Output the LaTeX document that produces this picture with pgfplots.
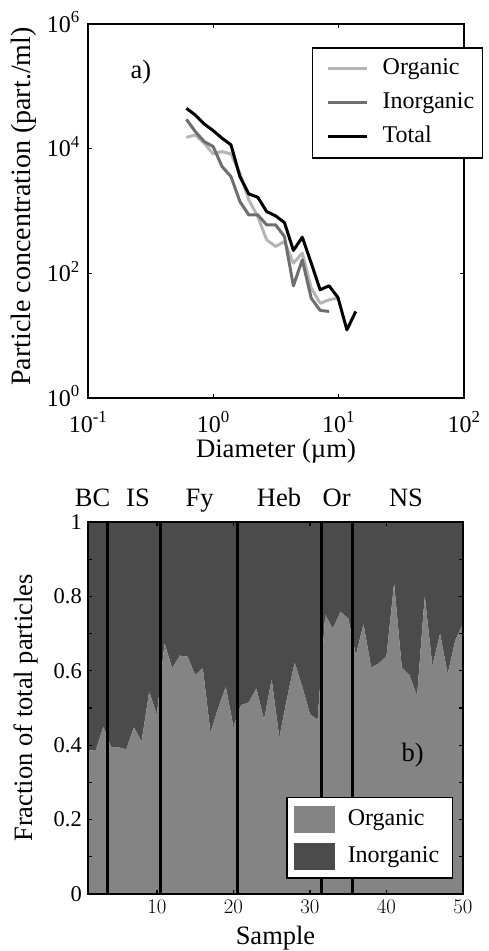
\documentclass[border=0pt]{standalone}
\usepackage{fontspec}
\setmainfont{Liberation Serif}
\usepackage{pgfplots}
\usepackage{pgfplotstable}
\pgfplotsset{compat=1.18}
\usepgfplotslibrary{fillbetween}

\definecolor{orgline}{HTML}{B5B5B5}
\definecolor{inorgline}{HTML}{6E6E6E}
\definecolor{orgfill}{HTML}{848484}
\definecolor{inorgfill}{HTML}{4B4B4B}

% size distributions, panel a)
\pgfplotstableread{
d n
0.610 15200
0.718 16600
0.846 12200
0.997 8240
1.174 8980
1.383 8240
1.629 4030
1.919 1510
2.261 815
2.663 345
3.137 270
3.695 324
4.353 146
5.128 211
6.04 58
7.12 33
8.38 37.7
9.87 40
}\organic

\pgfplotstableread{
d n
0.610 29600
0.718 18800
0.846 13000
0.997 10800
1.174 5160
1.383 3570
1.629 1420
1.919 867
2.261 867
2.663 600
3.137 600
3.695 390
4.353 63
5.128 165
6.04 40
7.12 25.4
8.38 24.5
}\inorganic

\pgfplotstableread{
d n
0.610 44400
0.718 34700
0.846 24900
0.997 19500
1.174 14700
1.383 11500
1.629 3570
1.919 1880
2.261 1665
2.663 980
3.137 836
3.695 653
4.353 233
5.128 380
6.04 146
7.12 54.5
8.38 63.1
9.87 41.0
11.63 12.4
13.70 24.5
}\total

% organic fraction per sample, panel b) (inorganic = rest up to 1)
\pgfplotstableread{
s org
1 0.387
2 0.385
3 0.450
4 0.396
5 0.394
6 0.389
7 0.448
8 0.410
9 0.544
10 0.481
11 0.674
12 0.607
13 0.641
14 0.638
15 0.589
16 0.607
17 0.434
18 0.499
19 0.557
20 0.450
21 0.508
22 0.515
23 0.553
24 0.468
25 0.577
26 0.420
27 0.526
28 0.622
29 0.557
30 0.484
31 0.468
32 0.750
33 0.714
34 0.759
35 0.741
36 0.642
37 0.726
38 0.609
39 0.620
40 0.640
41 0.835
42 0.609
43 0.589
44 0.532
45 0.801
46 0.613
47 0.700
48 0.591
49 0.683
50 0.726
}\fractions

\pgfplotsset{
  every axis/.append style={
    scale only axis,
    anchor=south west,
    clip mode=individual,
    axis line style={line width=1.8pt},
    tick align=inside,
    tick style={black, line width=1.3pt},
    major tick length=4pt,
    minor tick length=4pt,
    legend cell align=left,
  },
}

\begin{document}
\begin{tikzpicture}

\begin{axis}[
  at={(88pt,-398pt)},
  width=376pt, height=374pt,
  xmode=log, ymode=log,
  xmin=0.1, xmax=100, ymin=1, ymax=1e6,
  xtick={0.1,1,10,100},
  xticklabels={10\textsuperscript{-1},10\textsuperscript{0},10\textsuperscript{1},10\textsuperscript{2}},
  ytick={1,100,10000,1000000},
  yticklabels={10\textsuperscript{0},10\textsuperscript{2},10\textsuperscript{4},10\textsuperscript{6}},
  xminorticks=false, yminorticks=false,
  tick label style={font=\fontsize{24}{28}\selectfont, inner sep=0pt},
  xticklabel style={anchor=base, yshift=-34pt},
  yticklabel style={anchor=base east, xshift=-8pt, yshift=-8pt},
  xlabel={Diameter (µm)},
  xlabel style={at={(axis description cs:0.5,-0.1604)}, anchor=base,
    font=\fontsize{26.7}{30}\selectfont},
  ylabel={Particle concentration (part./ml)},
  ylabel style={at={(axis description cs:-0.154,0.512)}, anchor=base,
    font=\fontsize{28}{32}\selectfont},
  legend style={at={(axis description cs:0.5957,0.9385)}, anchor=north west,
    draw=black, line width=1.5pt, inner xsep=8pt, inner ysep=10pt,
    row sep=12pt, column sep=14pt,
    font=\fontsize{24}{28}\selectfont,
    nodes={inner sep=0pt, text height=17pt, text depth=5pt}},
  legend image code/.code={\path (0pt,0pt); \draw[#1] (6pt,0pt) -- (45pt,0pt);},
  every axis plot/.append style={line width=3pt, line join=round},
]
\addplot[orgline] table[x=d,y=n]{\organic};
\addplot[inorgline] table[x=d,y=n]{\inorganic};
\addplot[black] table[x=d,y=n]{\total};
\legend{Organic,Inorganic,Total}
\node[anchor=base west, font=\fontsize{26.5}{30}\selectfont] at (axis description cs:0.104,0.8556) {a)};
\end{axis}

\begin{axis}[
  at={(88pt,-894pt)},
  width=375pt, height=372pt,
  xmin=1, xmax=50, ymin=0, ymax=1,
  xtick={10,20,30,40,50},
  ytick={0,0.2,0.4,0.6,0.8,1},
  minor ytick={0.1,0.3,0.5,0.7,0.9},
  yticklabels={0,0.2,0.4,0.6,0.8,1},
  tick label style={font=\fontsize{22.5}{27}\selectfont, inner sep=0pt},
  xticklabel style={anchor=base, yshift=-19pt},
  yticklabel style={anchor=east, xshift=-6pt},
  xlabel={Sample},
  xlabel style={at={(axis description cs:0.5,-0.137)}, anchor=base,
    font=\fontsize{26.5}{30}\selectfont},
  ylabel={Fraction of total particles},
  ylabel style={at={(axis description cs:-0.149,0.5)}, anchor=base,
    font=\fontsize{26.5}{30}\selectfont},
  axis on top,
  legend style={at={(axis description cs:0.528,0.2608)}, anchor=north west,
    draw=black, line width=1.5pt, inner xsep=7pt, inner ysep=8pt,
    row sep=10.5pt, column sep=13pt,
    font=\fontsize{24}{28}\selectfont,
    nodes={inner sep=0pt, text height=17pt, text depth=5pt}},
  legend image code/.code={\fill[#1] (0pt,-13.5pt) rectangle (41pt,13.5pt);},
]
\addplot[fill=orgfill, draw=none] table[x=s,y=org]{\fractions} \closedcycle;
\addlegendimage{fill=inorgfill, draw=none}
\addplot[name path=orgtop, draw=none, forget plot] table[x=s,y=org]{\fractions};
\addplot[name path=one, draw=none, forget plot] coordinates {(1,1) (50,1)};
\addplot[fill=inorgfill, draw=none, forget plot] fill between[of=orgtop and one];
\legend{Organic\hspace*{6pt},Inorganic\hspace*{6pt}}
\addplot[ycomb, black, line width=3pt, forget plot]
  coordinates {(3.5,1) (10.5,1) (20.5,1) (31.5,1) (35.5,1)};
\foreach \lab/\pos in {BC/1.59, IS/7.53, Fy/15.6, Heb/25.96, Or/33.5, NS/42.55} {
  \edef\temp{\noexpand\node[anchor=base, yshift=16pt, font=\noexpand\fontsize{26.5}{30}\noexpand\selectfont] at (axis cs:\pos,1) {\lab};}
  \temp
}
\node[anchor=base west, font=\fontsize{26.5}{30}\selectfont] at (axis description cs:0.8267,0.355) {b)};
\end{axis}

\pgfresetboundingbox
\path[use as bounding box] (0pt,0pt) rectangle (488pt,-951pt);
\end{tikzpicture}
\end{document}
